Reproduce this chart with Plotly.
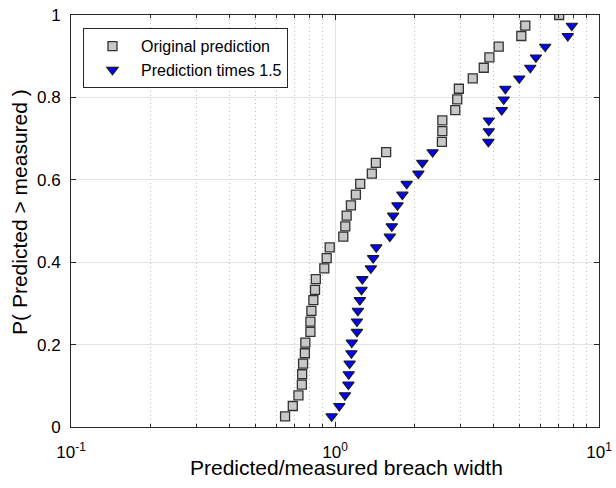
import plotly.graph_objects as go

# ---- data ----
orig_x = [0.647, 0.692, 0.727, 0.749, 0.751, 0.757, 0.769, 0.772, 0.807, 0.807,
          0.814, 0.828, 0.840, 0.846, 0.911, 0.930, 0.955, 1.075, 1.094, 1.107,
          1.149, 1.200, 1.246, 1.379, 1.428, 1.562, 2.541, 2.550, 2.550, 2.854,
          2.904, 2.945, 3.325, 3.660, 3.845, 4.169, 5.078, 5.258, 7.065]
orig_p = [0.026, 0.051, 0.077, 0.103, 0.128, 0.154, 0.179, 0.205, 0.231, 0.256,
          0.282, 0.308, 0.333, 0.359, 0.385, 0.410, 0.436, 0.462, 0.487, 0.513,
          0.538, 0.564, 0.590, 0.615, 0.641, 0.667, 0.692, 0.718, 0.744, 0.769,
          0.795, 0.821, 0.846, 0.872, 0.897, 0.923, 0.949, 0.974, 1.000]

x15_x = [0.971, 1.038, 1.091, 1.124, 1.127, 1.136, 1.154, 1.158, 1.211, 1.211,
         1.221, 1.242, 1.260, 1.269, 1.367, 1.395, 1.433, 1.613, 1.641, 1.661,
         1.724, 1.800, 1.869, 2.069, 2.142, 2.343, 3.812, 3.825, 3.825, 4.281,
         4.356, 4.418, 4.988, 5.490, 5.768, 6.254, 7.617, 7.887]
x15_p = [0.026, 0.051, 0.077, 0.103, 0.128, 0.154, 0.179, 0.205, 0.231, 0.256,
         0.282, 0.308, 0.333, 0.359, 0.385, 0.410, 0.436, 0.462, 0.487, 0.513,
         0.538, 0.564, 0.590, 0.615, 0.641, 0.667, 0.692, 0.718, 0.744, 0.769,
         0.795, 0.821, 0.846, 0.872, 0.897, 0.923, 0.949, 0.974]

x_tickvals = [0.1, 1, 10]
x_ticktext = ["10<sup>-1</sup>", "10<sup>0</sup>", "10<sup>1</sup>"]
x_minorvals = [0.2, 0.3, 0.4, 0.5, 0.6, 0.7, 0.8, 0.9, 2, 3, 4, 5, 6, 7, 8, 9]
y_tickvals = [0, 0.2, 0.4, 0.6, 0.8, 1]
y_ticktext = ["0", "0.2", "0.4", "0.6", "0.8", "1"]

FONT = "Liberation Sans, Arial, Helvetica, sans-serif"
AXC = "#262626"

fig = go.Figure()
fig.add_trace(go.Scatter(
    x=orig_x, y=orig_p, mode="markers", name="Original prediction",
    marker=dict(symbol="square", size=9, color="#c8c8c8",
                line=dict(color="#333333", width=1.3)),
))
fig.add_trace(go.Scatter(
    x=x15_x, y=x15_p, mode="markers", name="Prediction times 1.5",
    marker=dict(symbol="triangle-down", size=10, color="#0000ff",
                line=dict(color="#1a1a1a", width=1.1)),
))

fig.update_layout(
    width=616, height=488,
    margin=dict(l=71, r=17, t=15, b=61, autoexpand=False),
    paper_bgcolor="white", plot_bgcolor="white",
    font=dict(family=FONT, size=17, color="black"),
    showlegend=True,
    legend=dict(
        x=0.0227, y=0.968, xanchor="left", yanchor="top",
        bgcolor="white", bordercolor=AXC, borderwidth=1,
        font=dict(family=FONT, size=16, color="black"),
        itemwidth=47, tracegroupgap=0,
    ),
    xaxis=dict(
        type="log", range=[-1, 1], automargin=False,
        tickmode="array", tickvals=x_tickvals, ticktext=x_ticktext,
        ticks="inside", ticklen=5, tickcolor=AXC, ticklabelstandoff=10,
        showline=True, linecolor=AXC, linewidth=1, mirror="allticks",
        showgrid=True, gridcolor="#e3e3e3", gridwidth=1,
        zeroline=False,
        minor=dict(tickmode="array", tickvals=x_minorvals, ticks="inside",
                   ticklen=3, tickcolor=AXC, showgrid=True,
                   gridcolor="#bcbcbc", griddash="1px,3px", gridwidth=1),
        tickfont=dict(family=FONT, size=17, color="black"),
    ),
    yaxis=dict(
        range=[0, 1], automargin=False,
        tickmode="array", tickvals=y_tickvals, ticktext=y_ticktext,
        ticks="inside", ticklen=5, tickcolor=AXC, ticklabelstandoff=6,
        showline=True, linecolor=AXC, linewidth=1, mirror="allticks",
        showgrid=True, gridcolor="#e3e3e3", gridwidth=1,
        zeroline=False,
        tickfont=dict(family=FONT, size=17, color="black"),
    ),
    annotations=[
        dict(text="Predicted/measured breach width", xref="paper", yref="paper",
             x=0.521, y=-0.098, xanchor="center", yanchor="middle",
             showarrow=False, font=dict(family=FONT, size=21, color="black")),
        dict(text="P( Predicted > measured )", xref="paper", yref="paper",
             x=-0.0966, y=0.522, xanchor="center", yanchor="middle",
             textangle=-90, showarrow=False,
             font=dict(family=FONT, size=21, color="black")),
    ],
)

fig.write_html("out.html", config={"displayModeBar": False},
               post_script="document.body.style.margin='0px';")
